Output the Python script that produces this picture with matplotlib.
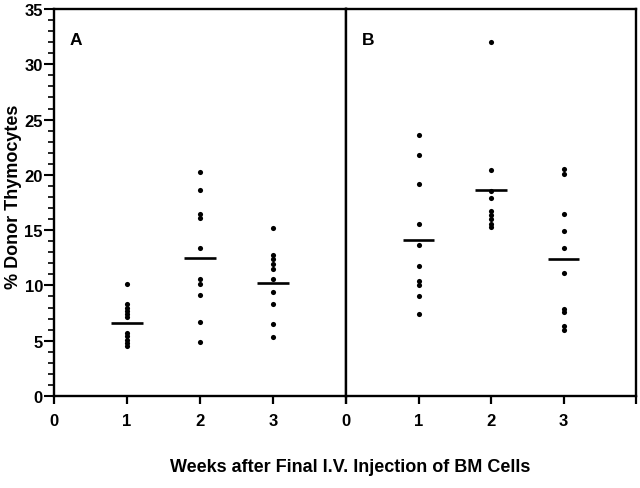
import numpy as np
import matplotlib
matplotlib.use("Agg")
import matplotlib.pyplot as plt
from matplotlib.ticker import MultipleLocator

plt.rcParams['font.family'] = ['Liberation Sans', 'DejaVu Sans']
plt.rcParams['font.weight'] = 'bold'

# weeks after final injection
weeks = [1, 2, 3]

# panel A : % donor thymocytes per mouse
a_wk1 = [10.1, 8.3, 8.0, 7.7, 7.4, 7.1, 5.7, 5.4, 5.1, 4.8, 4.5]
a_wk2 = [20.3, 18.6, 16.5, 16.1, 13.4, 10.6, 10.1, 9.1, 6.7, 4.9]
a_wk3 = [15.2, 12.75, 12.4, 11.9, 11.5, 10.6, 9.4, 8.3, 6.5, 5.3]
a_means = [6.6, 12.5, 10.2]

# panel B
b_wk1 = [23.6, 21.8, 19.2, 15.6, 13.65, 11.8, 10.4, 10.05, 9.0, 7.4]
b_wk2 = [32.0, 20.4, 18.5, 17.9, 16.75, 16.4, 16.0, 15.6, 15.25]
b_wk3 = [20.5, 20.1, 16.5, 14.9, 13.4, 11.15, 7.9, 7.6, 6.35, 6.0]
b_means = [14.1, 18.65, 12.35]

panels = [
    ("A", [a_wk1, a_wk2, a_wk3], a_means),
    ("B", [b_wk1, b_wk2, b_wk3], b_means),
]

fig = plt.figure(figsize=(6.4, 4.89), dpi=100)
ax_a = fig.add_axes([54 / 640, 1 - 397 / 489, 292 / 640, 387 / 489])
ax_b = fig.add_axes([346 / 640, 1 - 397 / 489, 290 / 640, 387 / 489], sharey=ax_a)

for ax, (name, groups, means) in zip([ax_a, ax_b], panels):
    for wk, vals, m in zip(weeks, groups, means):
        ax.plot([wk] * len(vals), vals, 'o', color='black', ms=3.7, mec='none')
        ax.plot([wk - 0.22, wk + 0.22], [m, m], color='black', lw=1.9,
                solid_capstyle='butt')
    ax.set_xlim(0, 4)
    ax.set_ylim(0, 35)
    ax.set_xticks([0, 1, 2, 3, 4])
    ax.set_xticklabels(['0', '1', '2', '3', ''], fontweight='bold')
    ax.tick_params(axis='x', direction='out', length=6, width=1.6,
                   labelsize=12, pad=6)
    for s in ax.spines.values():
        s.set_linewidth(1.7)
    ax.text(0.055, 0.92, name, transform=ax.transAxes, fontsize=12.5,
            fontweight='bold', ha='left', va='center')

ax_a.yaxis.set_major_locator(MultipleLocator(5))
ax_a.yaxis.set_minor_locator(MultipleLocator(1))
ax_a.tick_params(axis='y', which='major', direction='out', length=7,
                 width=1.5, labelsize=12, pad=1)
ax_a.tick_params(axis='y', which='minor', direction='out', length=4,
                 width=1.2)
for lbl in ax_a.get_yticklabels():
    lbl.set_fontweight('bold')
ax_b.tick_params(axis='y', which='both', left=False, labelleft=False)

fig.text(14 / 640, 1 - 197 / 489, '% Donor Thymocytes', rotation=90,
         ha='center', va='center', fontsize=13, fontweight='bold')
fig.text(350 / 640, 1 - 468 / 489, 'Weeks after Final I.V. Injection of BM Cells',
         ha='center', va='center', fontsize=13, fontweight='bold')

fig.savefig('out.png', dpi=100)
